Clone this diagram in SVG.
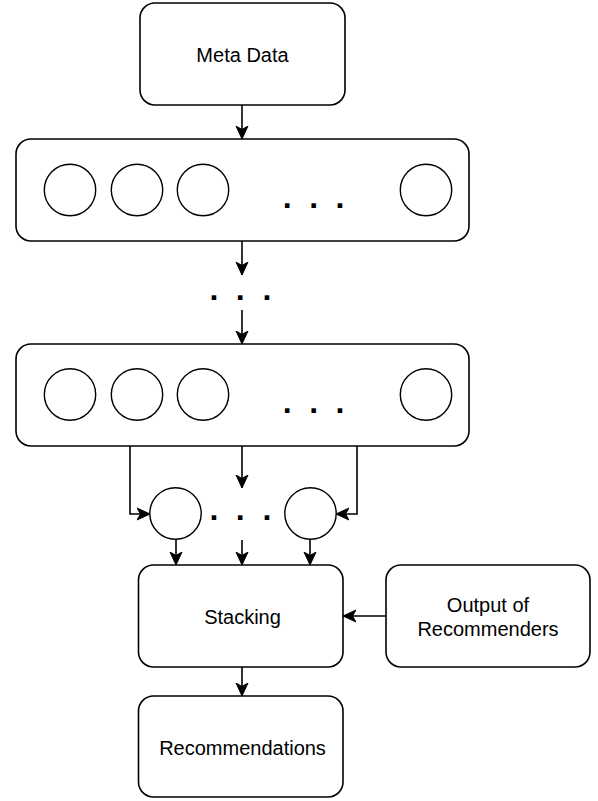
<svg xmlns="http://www.w3.org/2000/svg" width="598" height="801" viewBox="0 0 598 801">
<style>
.box{fill:#fff;stroke:#000;stroke-width:1.6}
.c{fill:#fff;stroke:#000;stroke-width:1.4}
.lbl{font-family:"Liberation Sans",Arial,sans-serif;font-size:20px;fill:#000;text-anchor:middle}
.dots{font-family:"Liberation Sans",Arial,sans-serif;font-weight:bold;font-size:32px;fill:#000;text-anchor:middle}
.e{fill:none;stroke:#000;stroke-width:1.6;marker-end:url(#ah)}
</style>
<defs>
<marker id="ah" markerUnits="userSpaceOnUse" markerWidth="14" markerHeight="14" viewBox="0 0 14 14" refX="13" refY="7" orient="auto">
<path d="M0,1 L13,7 L0,13 L3.5,7 z" fill="#000" stroke="#000" stroke-width="1"/>
</marker>
</defs>
<g id="connectors">
<path class="e" d="M242,105 V139"/>
<path class="e" d="M242,241 V275"/>
<path class="e" d="M242,310 V344"/>
<path class="e" d="M242,446 V488"/>
<path class="e" d="M130,446 V514 H150"/>
<path class="e" d="M357,446 V514 H336"/>
<path class="e" d="M176,539 V565"/>
<path class="e" d="M242,540 V565"/>
<path class="e" d="M310,539 V565"/>
<path class="e" d="M386,616 H343"/>
<path class="e" d="M242,667 V696"/>
</g>
<g id="meta-data">
<rect class="box" x="140" y="3" width="205" height="102" rx="15"/>
<text class="lbl" x="242.5" y="62">Meta Data</text>
</g>
<g id="layer-1">
<rect class="box" x="16" y="139" width="453" height="102" rx="15"/>
<circle class="c" cx="70" cy="190" r="25.7"/>
<circle class="c" cx="137" cy="190" r="25.7"/>
<circle class="c" cx="203" cy="190" r="25.7"/>
<circle class="c" cx="426" cy="190" r="25.7"/>
<text class="dots" x="287.3 313.7 340" y="207.5">...</text>
</g>
<g id="between-dots">
<text class="dots" x="214 240.3 267" y="300">...</text>
</g>
<g id="layer-n">
<rect class="box" x="16" y="344" width="453" height="102" rx="15"/>
<circle class="c" cx="70" cy="394.5" r="25.7"/>
<circle class="c" cx="137" cy="394.5" r="25.7"/>
<circle class="c" cx="203" cy="394.5" r="25.7"/>
<circle class="c" cx="426" cy="394.5" r="25.7"/>
<text class="dots" x="287.3 313.7 340" y="413">...</text>
</g>
<g id="model-left">
<circle class="c" cx="175.5" cy="513.5" r="25.7"/>
</g>
<g id="model-dots">
<text class="dots" x="214 240.3 267" y="520">...</text>
</g>
<g id="model-right">
<circle class="c" cx="310.5" cy="513.5" r="25.7"/>
</g>
<g id="stacking">
<rect class="box" x="138.5" y="565" width="204.5" height="102" rx="15"/>
<text class="lbl" x="242.5" y="624">Stacking</text>
</g>
<g id="output-of-recommenders">
<rect class="box" x="386" y="565" width="204" height="102" rx="15"/>
<text class="lbl" x="488" y="612">Output of</text>
<text class="lbl" x="488" y="635.5">Recommenders</text>
</g>
<g id="recommendations">
<rect class="box" x="138.5" y="696" width="204.5" height="101" rx="15"/>
<text class="lbl" x="242.5" y="755">Recommendations</text>
</g>
</svg>
